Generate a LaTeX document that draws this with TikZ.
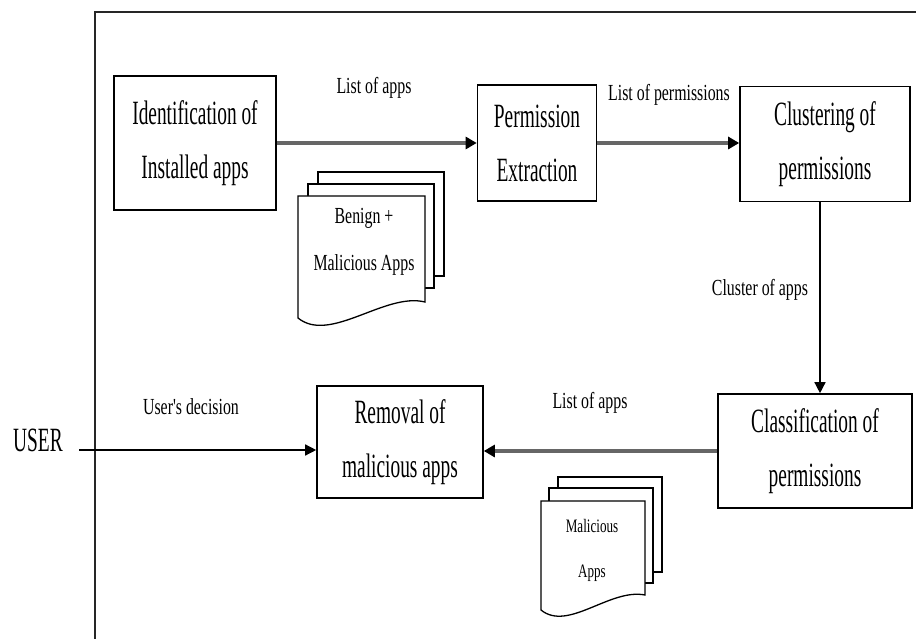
\documentclass[tikz,border=0pt]{standalone}
\usepackage{fontspec}
\setmainfont{Liberation Serif}
\newfontfamily\boxfont{Liberation Serif}[FakeStretch=0.57]
\newfontfamily\labfont{Liberation Serif}[FakeStretch=0.69]
\usetikzlibrary{arrows.meta}

\begin{document}
\begin{tikzpicture}[x=1pt,y=-1pt,
  stage/.style={draw,line width=1.6pt,inner sep=0pt,align=center,font={\boxfont\fontsize{34}{54}\selectfont}},
  lab/.style={inner sep=0pt,font={\labfont\fontsize{23}{23}\selectfont}},
  doc/.style={inner sep=0pt,align=center},
  flow/.style={line width=3.2pt,draw=black!60,-{Triangle[black,length=11pt,width=12pt]}},
  link/.style={line width=1.4pt,-{Triangle[length=11pt,width=11pt]}},
  sheet/.style={draw,line width=1.3pt,fill=white}]
\useasboundingbox (0,0) rectangle (916,639);
\draw[line width=2pt,black!85] (95,639)--(95,12)--(916,12);

\node[stage,minimum width=162pt,minimum height=134pt] (ident) at (195,143) {Identification of\\Installed apps};
\node[stage,minimum width=119pt,minimum height=116pt] (perm) at (537,143) {Permission\\Extraction};
\node[stage,minimum width=170pt,minimum height=115pt] (clust) at (825,144) {Clustering of\\permissions};
\node[stage,minimum width=194pt,minimum height=114pt] (classif) at (815,451) {Classification of\\permissions};
\node[stage,minimum width=166pt,minimum height=112pt] (remov) at (400,442) {Removal of\\malicious apps};
\node[inner sep=0pt,font={\boxfont\fontsize{34}{34}\selectfont}] (user) at (38,440) {USER};
\coordinate (ustart) at (79,450);

\draw[flow] (ident.east)--(ident.east -| perm.west);
\draw[flow] (perm.east)--(perm.east -| clust.west);
\draw[link] ([xshift=-5pt]clust.south)--([xshift=-5pt]clust.south |- classif.north);
\draw[flow] (classif.west)--(classif.west -| remov.east);
\draw[link] (ustart)--(ustart -| remov.west);

\node[lab] (topapps) at (374,88) {List of apps};
\node[lab] (perms) at (669,95) {List of permissions};
\node[lab] (clapps) at (760,290) {Cluster of apps};
\node[lab] (botapps) at (590,403) {List of apps};
\node[lab] (decision) at (191,407) {User's decision};

\draw[sheet] (318,172) rectangle (444,276);
\draw[sheet] (308,184) rectangle (434,288);
\draw[sheet] (298,196)--(425,196)--(425,302) .. controls (385,292) and (330,344) .. (298,318)--cycle;
\node[doc,font={\labfont\fontsize{23}{47}\selectfont}] (benign) at (364,242) {Benign +\\Malicious Apps};

\draw[sheet] (558,477) rectangle (662,572);
\draw[sheet] (549,488) rectangle (653,583);
\draw[sheet] (541,501)--(645,501)--(645,595) .. controls (610,588) and (568,632) .. (541,610)--cycle;
\node[doc,font={\labfont\fontsize{19}{45}\selectfont}] (malic) at (592,550) {Malicious\\Apps};
\end{tikzpicture}
\end{document}
